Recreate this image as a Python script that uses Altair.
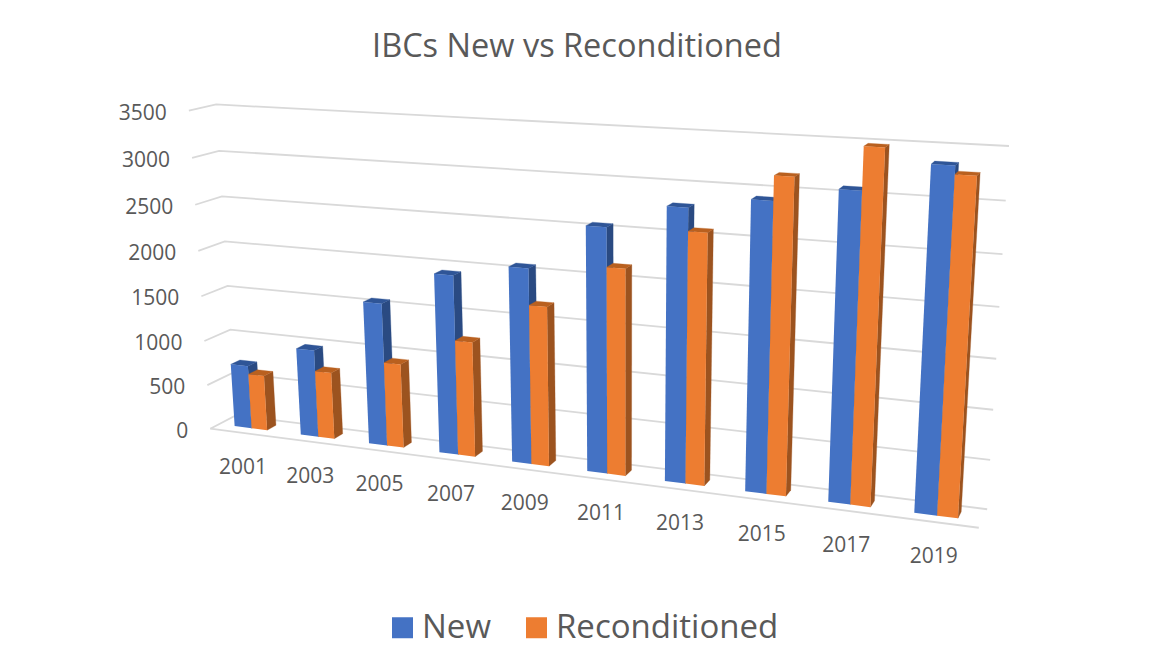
import numpy as np
import pandas as pd
import altair as alt

YEARS = [2001, 2003, 2005, 2007, 2009, 2011, 2013, 2015, 2017, 2019]
NEW = [710, 970, 1560, 1930, 2070, 2550, 2800, 2920, 3070, 3350]
RECON = [620, 740, 920, 1240, 1690, 2150, 2570, 3160, 3480, 3270]
TICKS = [0, 500, 1000, 1500, 2000, 2500, 3000, 3500]
SERIES = ["New", "Reconditioned"]
COLORS = ["#4472C4", "#ED7D31"]
SIDE = ["#2A4A82", "#9C531F"]
TOP = ["#2F5597", "#B9601F"]
TEXT = "#595959"
FONT = "Open Sans"
HMAX = 3500.0

# Camera calibration of the 3D box: (along, height share, depth) -> picture point
BOX = [
    ((0, 0, 0), (210, 428)), ((0, 1, 0), (189, 111)),
    ((0, 0, 1), (236, 416)), ((0, 1, 1), (216, 104)),
    ((1, 1, 1), (1009, 146)), ((1, 0, 1), (987, 509)),
    ((1, 0, 0), (979, 528)),
]
A = []
for (X, Y, Z), (u, v) in BOX:
    A.append([X, Y, Z, 1, 0, 0, 0, 0, -u * X, -u * Y, -u * Z, -u])
    A.append([0, 0, 0, 0, X, Y, Z, 1, -v * X, -v * Y, -v * Z, -v])
P = np.linalg.svd(np.array(A, float))[2][-1].reshape(3, 4)


def project(x, h, d):
    w = P @ np.array([x, h / HMAX, d, 1.0])
    return float(w[0] / w[2]), float(w[1] / w[2])


# Bar layout inside a category cell, as shares of the cell and of the depth
N = len(YEARS)
BAR_START, BAR_MID, BAR_END = 0.24, 0.50, 0.735
D0, D1 = 0.34, 0.70

rows = []
for s, (name, vals) in enumerate(zip(SERIES, [NEW, RECON])):
    for i, (yr, val) in enumerate(zip(YEARS, vals)):
        a = (i + (BAR_START if s == 0 else BAR_MID)) / N
        b = (i + (BAR_MID if s == 0 else BAR_END)) / N
        faces = {
            "front": [(a, 0, D0), (b, 0, D0), (b, val, D0), (a, val, D0)],
            "side": [(b, 0, D0), (b, 0, D1), (b, val, D1), (b, val, D0)],
            "top": [(a, val, D0), (b, val, D0), (b, val, D1), (a, val, D1)],
        }
        for face, pts in faces.items():
            for k, pt in enumerate(pts):
                px, py = project(*pt)
                rows.append(dict(series=name, year=yr, face=face, k=k, px=px, py=py,
                                 id=f"{name}-{yr}-{face}"))
bars = pd.DataFrame(rows)

grid_rows = []
for t in TICKS:
    for k, pt in enumerate([(0, t, 0), (0, t, 1), (1, t, 1)]):
        px, py = project(*pt)
        grid_rows.append(dict(id=f"g{t}", k=k, px=px, py=py))
for k, pt in enumerate([(0, 0, 0), (1, 0, 0)]):
    px, py = project(*pt)
    grid_rows.append(dict(id="floor", k=k, px=px, py=py))
grid = pd.DataFrame(grid_rows)

ylabs = pd.DataFrame([
    dict(label=str(t), px=project(0, t, 0)[0], py=project(0, t, 0)[1]) for t in TICKS
])
xlabs = pd.DataFrame([
    dict(label=str(y), px=project((i + 0.5) / N, 0, 0)[0], py=project((i + 0.5) / N, 0, 0)[1])
    for i, y in enumerate(YEARS)
])

xs = alt.Scale(domain=[8, 1144], range=[0, 1136], nice=False, zero=False)
ys = alt.Scale(domain=[8, 663], range=[0, 655], nice=False, zero=False)
X = alt.X("px:Q", scale=xs, axis=None)
Y = alt.Y("py:Q", scale=ys, axis=None)


def flat(df, color):
    return alt.Chart(df).mark_line(
        fill=color, stroke=color, strokeWidth=0.3, interpolate="linear-closed"
    ).encode(x=X, y=Y, detail="id:N", order="k:Q")


layers = [
    alt.Chart(grid).mark_line(stroke="#D9D9D9", strokeWidth=1.8).encode(
        x=X, y=Y, detail="id:N", order="k:Q"
    )
]
for s, name in enumerate(SERIES):
    d = bars[bars.series == name]
    layers.append(flat(d[d.face == "side"], SIDE[s]))
    layers.append(flat(d[d.face == "top"], TOP[s]))
    layers.append(
        alt.Chart(d[d.face == "front"]).mark_line(
            strokeWidth=0, interpolate="linear-closed"
        ).encode(
            x=X, y=Y, detail="id:N", order="k:Q",
            fill=alt.Fill(
                "series:N",
                scale=alt.Scale(domain=SERIES, range=COLORS),
                legend=alt.Legend(
                    title=None, orient="none", direction="horizontal",
                    legendX=378, legendY=603, symbolType="square", symbolSize=441,
                    symbolStrokeWidth=0, labelFont=FONT, labelFontSize=33,
                    labelColor=TEXT, labelOffset=3, columnPadding=29, padding=0,
                    labelLimit=400, symbolOpacity=1,
                ),
            ),
        )
    )

layers.append(
    alt.Chart(ylabs).mark_text(
        align="right", baseline="middle", font=FONT, fontSize=21, color=TEXT, dx=-22, dy=3
    ).encode(x=X, y=Y, text="label:N")
)
layers.append(
    alt.Chart(xlabs).mark_text(
        align="center", baseline="middle", font=FONT, fontSize=21, color=TEXT, dy=35
    ).encode(x=X, y=Y, text="label:N")
)

chart = alt.layer(*layers).properties(
    width=1136, height=655, padding=0,
    autosize=alt.AutoSizeParams(type="none"),
    title=alt.TitleParams(
        "IBCs New vs Reconditioned", font=FONT, fontSize=32.5, fontWeight="normal",
        color=TEXT, anchor="middle", frame="group", dy=59, dx=1,
    ),
).configure_view(stroke=None)

chart.save("out.html", embed_options={"renderer": "svg", "actions": False})
